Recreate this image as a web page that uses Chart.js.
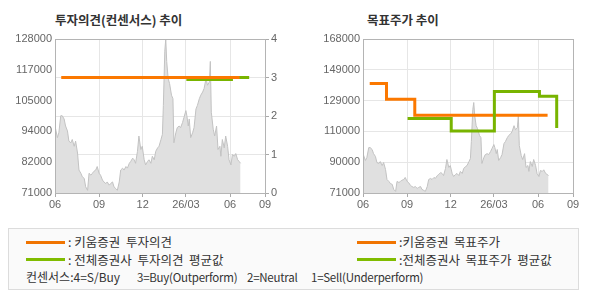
<!DOCTYPE html>
<html>
<head>
<meta charset="utf-8">
<script src="https://cdn.jsdelivr.net/npm/chart.js@4/dist/chart.umd.min.js"></script>
<style>
  html, body { margin: 0; padding: 0; background: #fff; }
  #wrap { position: relative; width: 590px; height: 300px; overflow: hidden; font-family: "Noto Sans CJK KR", "Liberation Sans", sans-serif; }
  .title { position: absolute; top: 11px; height: 18px; line-height: 18px; font-size: 12.5px; font-weight: bold; color: #333; white-space: nowrap; }
  canvas { position: absolute; top: 0; }
  #legend { position: absolute; left: 8px; top: 228px; width: 569px; height: 60px; border: 1px solid #dcdcdc; background: #fafafa; }
  .lline { position: absolute; height: 3px; width: 39px; }
  .ltext { position: absolute; height: 16px; line-height: 16px; font-size: 12.5px; color: #333; white-space: pre; }
  .ctext { position: absolute; height: 16px; line-height: 16px; font-size: 11.5px; letter-spacing: -0.25px; color: #333; white-space: pre; }
  .ctext.first { font-size: 12px; letter-spacing: 0; }
</style>
</head>
<body>
<div id="wrap">
  <div class="title" style="left:55px;">투자의견(컨센서스) 추이</div>
  <div class="title" style="left:367px;">목표주가 추이</div>
  <canvas id="c1" width="295" height="215" style="left:0px;width:295px;height:215px;"></canvas>
  <canvas id="c2" width="295" height="215" style="left:295px;width:295px;height:215px;"></canvas>
  <div id="legend"></div>
</div>
<script>
// ---- data ----
const xTickDays = [0, 92, 183, 273, 365, 438];
const xTickLabels = ['06', '09', '12', '26/03', '06', '09'];

const priceDays = [0,5,8,12,15,19,22,26,29,33,36,40,43,47,50,54,57,61,64,68,71,75,78,81,85,88,92,95,99,102,106,109,113,116,120,123,127,130,134,137,141,144,148,151,155,158,162,165,168,172,175,179,182,186,189,193,196,200,203,207,210,214,217,221,224,226,229,231,233,236,239,243,246,248,252,255,259,262,266,269,273,275,278,280,283,287,290,294,297,301,304,308,311,315,318,322,324,326,330,333,337,340,344,346,349,353,356,360,363,367,370,374,377,381,384,387];
const priceValues = [95800,91500,93300,99600,99600,98400,95800,94000,90200,89600,90800,88300,90200,85800,79500,78300,77000,76400,73300,72000,78300,77600,78300,79000,79500,80800,78300,77600,75800,75100,74500,75100,73900,74500,75100,73300,72600,72000,75100,79500,80200,79500,80800,80200,82000,82700,83900,83300,82000,86400,92100,87100,88300,83300,81400,82700,83300,82000,84600,83300,86400,87700,88300,90800,92700,103400,123500,128000,119700,113400,111500,107200,105900,89600,93300,95200,95800,95200,97100,99000,101500,99600,95800,98400,91500,93300,95200,102100,103400,105900,107200,108400,109700,113400,110900,112100,119700,100900,94600,92100,95800,87100,88300,84600,90800,87700,92100,88300,83300,81400,85200,84600,85600,83300,82700,82000];

const opinionDays = [13, 385];
const opinionValues = [3, 3];
const avgOpinionDays = [274, 368, 405];
const avgOpinionValues = [2.95, 3, 3];

const targetDays = [14, 49, 108, 385];
const targetValues = [140000, 130000, 120000, 120000];
const avgTargetDays = [93, 184, 274, 368, 404];
const avgTargetValues = [118000, 110000, 135000, 132000, 112000];

const leftPriceTicks = [71000, 82000, 94000, 105000, 117000, 128000];
const rightPriceTicks = [71000, 90000, 110000, 129000, 149000, 168000];
const opinionTicks = [0, 1, 2, 3, 4];

const legendItems = [
  { col: 0, row: 0, color: '#f07400', text: ': 키움증권  투자의견' },
  { col: 0, row: 1, color: '#80bc00', text: ': 전체증권사  투자의견  평균값' },
  { col: 1, row: 0, color: '#f07400', text: ':키움증권  목표주가' },
  { col: 1, row: 1, color: '#80bc00', text: ':전체증권사  목표주가  평균값' }
];
const consensusParts = ['컨센서스:4=S/Buy', '3=Buy(Outperform)', '2=Neutral', '1=Sell(Underperform)'];

// ---- styles ----
const ORANGE = '#fb7800';
const GREEN = '#78b400';
const GRID = '#e6e6e6';
const FRAME = '#b4b4b4';
const TICKFONT = { family: 'Liberation Sans, Arial, sans-serif', size: 11 };
const TICKCOLOR = '#666';

const pts = (xs, ys) => xs.map((x, i) => ({ x: x, y: ys[i] }));

const framePlugin = {
  id: 'frame',
  afterDatasetsDraw(chart) {
    const a = chart.chartArea, ctx = chart.ctx;
    ctx.save();
    ctx.strokeStyle = FRAME;
    ctx.lineWidth = 1;
    ctx.strokeRect(Math.round(a.left) + 0.5, Math.round(a.top) + 0.5, Math.round(a.right - a.left), Math.round(a.bottom - a.top));
    ctx.restore();
  }
};

function xScale() {
  return {
    type: 'linear',
    min: xTickDays[0],
    max: xTickDays[xTickDays.length - 1],
    afterBuildTicks(s) { s.ticks = xTickDays.map(v => ({ value: v })); },
    afterFit(s) { s.height = 22; },
    ticks: {
      autoSkip: false, maxRotation: 0, padding: 1,
      font: TICKFONT, color: TICKCOLOR,
      callback: (v, i) => xTickLabels[i]
    },
    grid: { color: GRID, tickLength: 4, tickColor: '#aaa' },
    border: { display: false }
  };
}

function priceScale(labels, width, gridOn) {
  const min = labels[0], max = labels[labels.length - 1];
  return {
    type: 'linear',
    position: 'left',
    min: min, max: max,
    afterBuildTicks(s) {
      s.ticks = labels.map((l, i) => ({ value: min + i * (max - min) / (labels.length - 1) }));
    },
    afterFit(s) { s.width = width; },
    ticks: { font: TICKFONT, color: TICKCOLOR, padding: 3, callback: (v, i) => String(labels[i]) },
    grid: { display: gridOn, drawOnChartArea: gridOn, color: GRID, drawTicks: false },
    border: { display: false }
  };
}

const areaDataset = (axis) => ({
  type: 'line',
  data: pts(priceDays, priceValues),
  yAxisID: axis,
  borderColor: '#c2c2c2',
  borderWidth: 1,
  backgroundColor: '#e0e0e0',
  fill: 'start',
  pointRadius: 0,
  tension: 0
});

const stepDataset = (xs, ys, color, axis) => ({
  type: 'line',
  data: pts(xs, ys),
  yAxisID: axis,
  borderColor: color,
  borderWidth: 3,
  fill: false,
  pointRadius: 0,
  stepped: true,
  borderCapStyle: 'butt'
});

const common = {
  responsive: false,
  animation: false,
  devicePixelRatio: 1,
  plugins: { legend: { display: false }, tooltip: { enabled: false } },
  events: []
};

// ---- left chart: investment opinion ----
new Chart(document.getElementById('c1'), {
  type: 'line',
  data: {
    datasets: [
      stepDataset(opinionDays, opinionValues, ORANGE, 'y1'),
      stepDataset(avgOpinionDays, avgOpinionValues, GREEN, 'y1'),
      areaDataset('y')
    ]
  },
  options: Object.assign({}, common, {
    layout: { padding: { top: 39, left: 0, right: 0, bottom: 0 } },
    scales: {
      x: xScale(),
      y: priceScale(leftPriceTicks, 55, false),
      y1: {
        type: 'linear', position: 'right',
        min: opinionTicks[0], max: opinionTicks[opinionTicks.length - 1],
        afterBuildTicks(s) { s.ticks = opinionTicks.map(v => ({ value: v })); },
        afterFit(s) { s.width = 30; },
        ticks: { font: TICKFONT, color: TICKCOLOR, padding: 2 },
        grid: { color: GRID, tickLength: 4, tickColor: '#aaa' },
        border: { display: false }
      }
    }
  }),
  plugins: [framePlugin]
});

// ---- right chart: target price ----
new Chart(document.getElementById('c2'), {
  type: 'line',
  data: {
    datasets: [
      stepDataset(avgTargetDays, avgTargetValues, GREEN, 'y'),
      stepDataset(targetDays, targetValues, ORANGE, 'y'),
      areaDataset('y')
    ]
  },
  options: Object.assign({}, common, {
    layout: { padding: { top: 39, left: 0, right: 17, bottom: 0 } },
    scales: {
      x: xScale(),
      y: priceScale(rightPriceTicks, 68, true)
    }
  }),
  plugins: [framePlugin]
});

// ---- legend ----
const lg = document.getElementById('legend');
const colX = [[17, 59], [348, 390]];
const rowY = [11, 28.5];
legendItems.forEach(it => {
  const l = document.createElement('div');
  l.className = 'lline';
  l.style.left = colX[it.col][0] + 'px';
  l.style.top = (rowY[it.row] + 0.5) + 'px';
  l.style.background = it.color;
  lg.appendChild(l);
  const t = document.createElement('div');
  t.className = 'ltext';
  t.style.left = colX[it.col][1] + 'px';
  t.style.top = (rowY[it.row] - 6) + 'px';
  t.textContent = it.text;
  lg.appendChild(t);
});
const partX = [17, 128, 238, 302];
consensusParts.forEach((p, i) => {
  const ct = document.createElement('div');
  ct.className = i === 0 ? 'ctext first' : 'ctext';
  ct.style.left = partX[i] + 'px';
  ct.style.top = '40px';
  ct.textContent = p;
  lg.appendChild(ct);
});
</script>
</body>
</html>
